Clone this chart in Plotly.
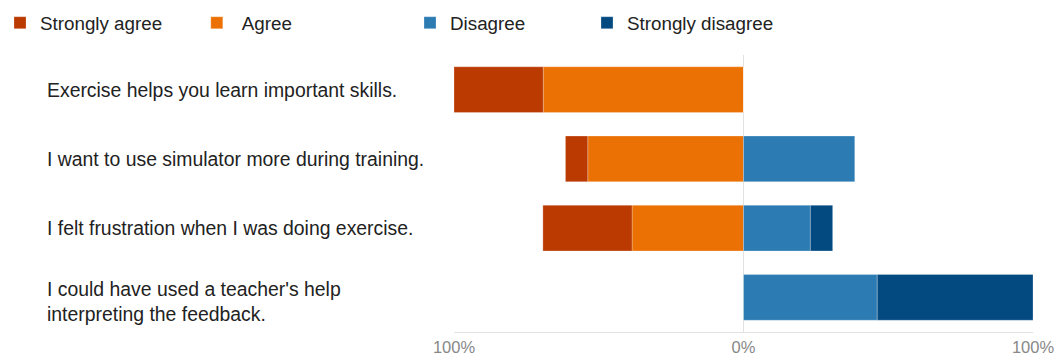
import plotly.graph_objects as go

# ---- data (percent of respondents) ----
statements = [
    "Exercise helps you learn important skills.",
    "I want to use simulator more during training.",
    "I felt frustration when I was doing exercise.",
    "I could have used a teacher's help<br>interpreting the feedback.",
]
strongly_agree = [30.8, 7.7, 30.8, 0.0]
agree = [69.2, 53.8, 38.5, 0.0]
disagree = [0.0, 38.5, 23.1, 46.2]
strongly_disagree = [0.0, 0.0, 7.7, 53.8]

tick_vals = [-100, 0, 100]
tick_text = ["100%", "0%", "100%"]

# ---- styling ----
C_SA = "#BA3A02"
C_A = "#EB7105"
C_D = "#2C7BB2"
C_SD = "#034A80"
FONT = "Liberation Sans, Arial, sans-serif"
TXT = "#222222"

L, R, T, B = 454, 31, 55, 26
W, H = 1064, 358

fig = go.Figure()

def bar(name, vals, color, legend, sign):
    fig.add_trace(go.Bar(
        y=statements, x=[sign * v for v in vals], name=name, orientation="h",
        marker=dict(color=color, line=dict(color="rgba(255,255,255,0.25)", width=1)),
        legend=legend, hoverinfo="skip",
    ))

# order matters for relative stacking (closest to zero first)
bar("Agree", agree, C_A, "legend2", -1)
bar("Strongly agree", strongly_agree, C_SA, "legend", -1)
bar("Disagree", disagree, C_D, "legend3", 1)
bar("Strongly disagree", strongly_disagree, C_SD, "legend4", 1)

# category labels, left aligned
for s in statements:
    fig.add_annotation(
        x=(45 - L) / (W - L - R), xref="paper", y=s, yref="y",
        text=s, showarrow=False, xanchor="left", align="left",
        yshift=-4 if "<br>" in s else 0,
        font=dict(family=FONT, size=19.4, color=TXT),
    )

def leg(x_px, itemwidth=30):
    return dict(
        x=x_px / W, xref="container",
        y=1 - 23 / H, yref="container", yanchor="middle", xanchor="left",
        orientation="h", bgcolor="rgba(0,0,0,0)", borderwidth=0,
        itemwidth=itemwidth,
        font=dict(family=FONT, size=18.8, color=TXT),
    )

fig.update_layout(
    width=W, height=H,
    margin=dict(l=L, r=R, t=T, b=B, autoexpand=False),
    paper_bgcolor="white", plot_bgcolor="white",
    barmode="relative", bargap=0.34,
    showlegend=True,
    legend=leg(-3.5), legend2=leg(191.8, 40), legend3=leg(410), legend4=leg(587),
    xaxis=dict(
        range=[-100, 100], tickvals=tick_vals, ticktext=tick_text,
        showgrid=True, gridcolor="#e2e2e2", gridwidth=1,
        zeroline=True, zerolinecolor="#e2e2e2", zerolinewidth=1,
        showline=True, linecolor="#e2e2e2", linewidth=1,
        tickfont=dict(family=FONT, size=16.5, color="#888888"),
        automargin=False, fixedrange=True,
    ),
    yaxis=dict(
        autorange="reversed", showticklabels=False, showgrid=False,
        zeroline=False, showline=False, automargin=False, fixedrange=True,
    ),
    font=dict(family=FONT),
)

fig.write_html("out.html")
